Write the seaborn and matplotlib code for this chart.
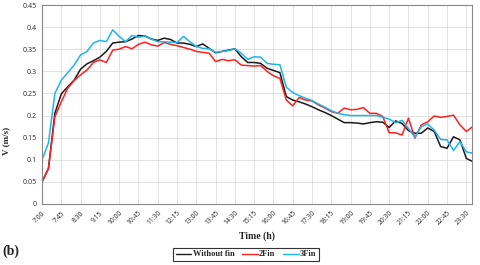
import numpy as np
import pandas as pd
import matplotlib
matplotlib.use("Agg")
import matplotlib.pyplot as plt
import seaborn as sns

# time axis: 7:00 to 23:45, every 15 min (hours)
hours = [7 + i * 0.25 for i in range(68)]

# velocity (m/s)
without_fin = [0.05, 0.08, 0.205, 0.249, 0.265, 0.28, 0.305, 0.317, 0.324, 0.332,
               0.345, 0.364, 0.366, 0.367, 0.373, 0.381, 0.38, 0.373, 0.37, 0.375,
               0.372, 0.364, 0.364, 0.361, 0.356, 0.362, 0.352, 0.342, 0.345, 0.348,
               0.351, 0.333, 0.32, 0.32, 0.318, 0.307, 0.302, 0.297, 0.243, 0.235,
               0.231, 0.226, 0.22, 0.213, 0.207, 0.2, 0.192, 0.184, 0.184, 0.183,
               0.181, 0.184, 0.186, 0.185, 0.173, 0.188, 0.182, 0.166, 0.16, 0.16,
               0.172, 0.164, 0.13, 0.126, 0.152, 0.145, 0.103, 0.096]
fin2 = [0.05, 0.08, 0.197, 0.231, 0.262, 0.279, 0.292, 0.303, 0.32, 0.326,
        0.32, 0.348, 0.35, 0.356, 0.351, 0.361, 0.366, 0.36, 0.357, 0.365,
        0.361, 0.358, 0.354, 0.35, 0.345, 0.343, 0.341, 0.322, 0.327, 0.324,
        0.326, 0.314, 0.313, 0.312, 0.313, 0.3, 0.29, 0.284, 0.235, 0.222,
        0.241, 0.235, 0.233, 0.224, 0.217, 0.209, 0.205, 0.217, 0.213, 0.214,
        0.218, 0.205, 0.205, 0.198, 0.161, 0.161, 0.156, 0.194, 0.149, 0.179,
        0.186, 0.199, 0.196, 0.198, 0.201, 0.179, 0.164, 0.175]
fin3 = [0.10, 0.138, 0.25, 0.28, 0.297, 0.314, 0.337, 0.345, 0.364, 0.37,
        0.367, 0.394, 0.379, 0.367, 0.381, 0.377, 0.38, 0.373, 0.367, 0.367,
        0.366, 0.365, 0.379, 0.367, 0.356, 0.352, 0.351, 0.343, 0.345, 0.347,
        0.351, 0.341, 0.327, 0.333, 0.332, 0.318, 0.316, 0.315, 0.264, 0.252,
        0.245, 0.239, 0.234, 0.226, 0.219, 0.211, 0.205, 0.202, 0.2, 0.2,
        0.2, 0.2, 0.2, 0.196, 0.192, 0.184, 0.189, 0.171, 0.151, 0.175,
        0.181, 0.167, 0.146, 0.145, 0.121, 0.141, 0.118, 0.115]

series_names = ["Without fin", "2Fin", "3Fin"]
colors = ["#1a1a1a", "#ff2020", "#1fb4ea"]

tick_labels = ["7:00", "7:45", "8:30", "9:15", "10:00", "10:45", "11:30", "12:15",
               "13:00", "13:45", "14:30", "15:15", "16:00", "16:45", "17:30", "18:15",
               "19:00", "19:45", "20:30", "21:15", "22:00", "22:45", "23:30"]
tick_pos = [7 + 0.75 * i for i in range(len(tick_labels))]

df = pd.DataFrame({
    "time": hours * 3,
    "V": without_fin + fin2 + fin3,
    "case": [series_names[0]] * 68 + [series_names[1]] * 68 + [series_names[2]] * 68,
})

sns.set_style("white")
fig = plt.figure(figsize=(4.8, 2.65), dpi=100)
ax = fig.add_axes([42 / 480, 1 - 204 / 265, 430 / 480, 199 / 265])

sns.lineplot(data=df, x="time", y="V", hue="case", palette=colors,
             hue_order=series_names, linewidth=1.1, ax=ax, legend=False)

ax.set_xlim(7, 23.72)
ax.set_ylim(0, 0.45)
ax.set_yticks(np.arange(0, 0.451, 0.05))
ax.set_yticklabels(["0", "0.05", "0.1", "0.15", "0.2", "0.25", "0.3", "0.35", "0.4", "0.45"],
                   fontsize=5.1, family="Open Sans")
ax.set_xticks(tick_pos)
ax.set_xticklabels(tick_labels, rotation=45, ha="right", rotation_mode="anchor",
                   fontsize=4.9, family="Open Sans")
ax.tick_params(axis="both", which="both", length=2.5, width=0.6, color="#888888",
               pad=1.5, direction="out")
ax.grid(True, color="#dddddd", linewidth=0.6)
for s in ax.spines.values():
    s.set_color("#888888")
    s.set_linewidth(0.8)

ax.set_xlabel("")
ax.set_ylabel("")
fig.text(0.013, 0.47, "V (m/s)", rotation=90, ha="center", va="center",
         fontsize=6.5, fontweight="bold", family="Liberation Serif")
fig.text(257 / 480, 1 - 236 / 265, "Time (h)", ha="center", va="center",
         fontsize=7, fontweight="bold", family="Liberation Serif")
fig.text(0.005, 1 - 251 / 265, "(b)", ha="left", va="center",
         fontsize=10, fontweight="bold", family="Liberation Serif")

handles = [plt.Line2D([], [], color=c, linewidth=1.0) for c in colors]
leg = fig.legend(handles, series_names, loc="center", ncol=3,
                 bbox_to_anchor=(246 / 480, 1 - 254.5 / 265),
                 prop={"family": "Liberation Serif", "weight": "bold", "size": 6},
                 frameon=True, fancybox=False, borderpad=0.3, handlelength=1.9,
                 handletextpad=0.15, columnspacing=0.9, borderaxespad=0)
leg.get_frame().set_edgecolor("black")
leg.get_frame().set_linewidth(0.8)

fig.savefig("out.png", dpi=100)
